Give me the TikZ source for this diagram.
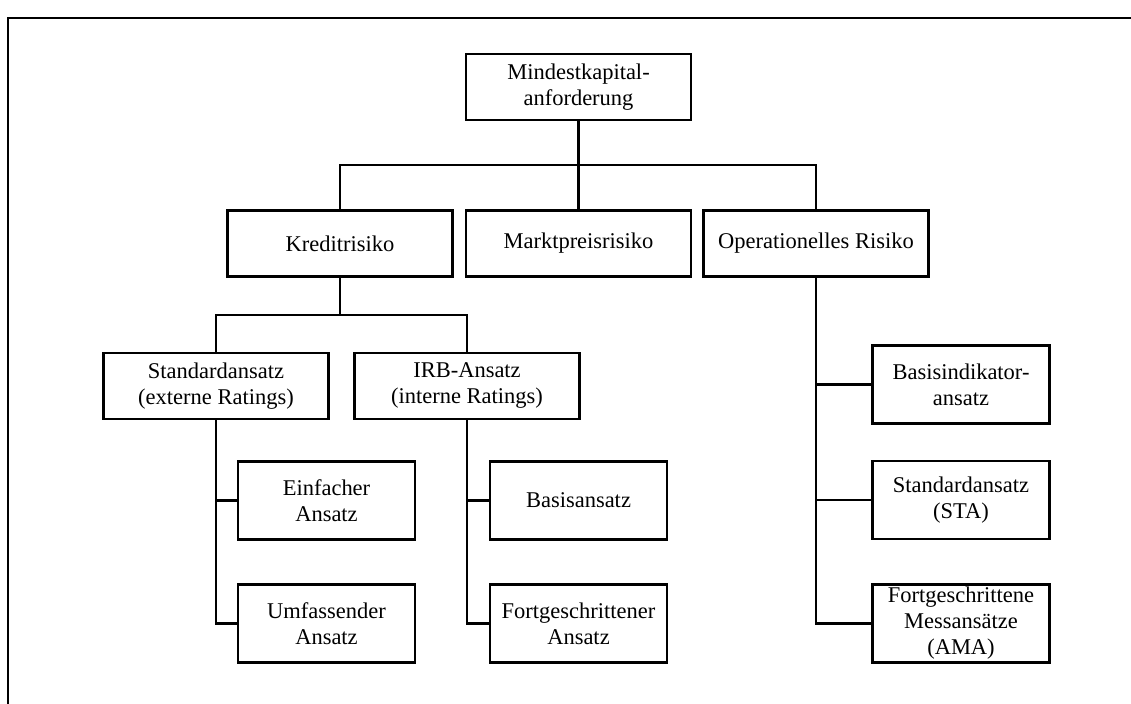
\documentclass[tikz,border=0pt]{standalone}
\usepackage{fontspec}
\setmainfont{Liberation Serif}
\usetikzlibrary{calc}

\begin{document}
\begin{tikzpicture}[line width=1.4pt,
  bigbox/.style={draw,align=center,inner sep=0pt,minimum width=4.5cm,minimum height=1.32cm,font=\fontsize{12.8}{14.8}\selectfont},
  smallbox/.style={draw,align=center,inner sep=0pt,minimum width=3.54cm,minimum height=1.56cm,font=\fontsize{12.8}{14.8}\selectfont}]
  \useasboundingbox (0,0) rectangle (22.62,14.08);
  \draw (0.16,0) -- (0.16,13.72) -- (22.62,13.72);
  \node[bigbox] (mind) at (11.57,12.34) {Mindestkapital-\\anforderung};
  \node[bigbox] (kredit) at (6.8,9.21) {Kreditrisiko};
  \node[bigbox] (markt) at (11.57,9.21) {Marktpreisrisiko};
  \node[bigbox] (oper) at (16.32,9.21) {Operationelles Risiko};
  \node[bigbox] (stdext) at (4.32,6.36) {Standardansatz\\(externe Ratings)};
  \node[bigbox] (irb) at (9.34,6.36) {IRB-Ansatz\\(interne Ratings)};
  \node[smallbox] (einf) at (6.53,4.07) {Einfacher\\Ansatz};
  \node[smallbox] (umf) at (6.53,1.61) {Umfassender\\Ansatz};
  \node[smallbox] (basis) at (11.57,4.07) {Basisansatz};
  \node[smallbox] (fortg) at (11.57,1.61) {Fortgeschrittener\\Ansatz};
  \node[smallbox] (basind) at (19.22,6.39) {Basisindikator-\\ansatz};
  \node[smallbox] (sta) at (19.22,4.08) {Standardansatz\\(STA)};
  \node[smallbox] (ama) at (19.22,1.61) {Fortgeschrittene\\Messansätze\\(AMA)};
  \coordinate (bus1) at ($(mind.south)!.5!(markt.north)$);
  \coordinate (bus2) at ($(kredit.south)!.5!(kredit.south |- stdext.north)$);
  \draw (mind.south) -- (markt.north);
  \draw (kredit.north) |- (bus1) -| (oper.north);
  \draw (kredit.south) -- (bus2);
  \draw (stdext.north) |- (bus2) -| (irb.north);
  \draw (stdext.south) |- (einf.west);
  \draw (stdext.south) |- (umf.west);
  \draw (irb.south) |- (basis.west);
  \draw (irb.south) |- (fortg.west);
  \draw (oper.south) |- (basind.west);
  \draw (oper.south) |- (sta.west);
  \draw (oper.south) |- (ama.west);
\end{tikzpicture}
\end{document}
